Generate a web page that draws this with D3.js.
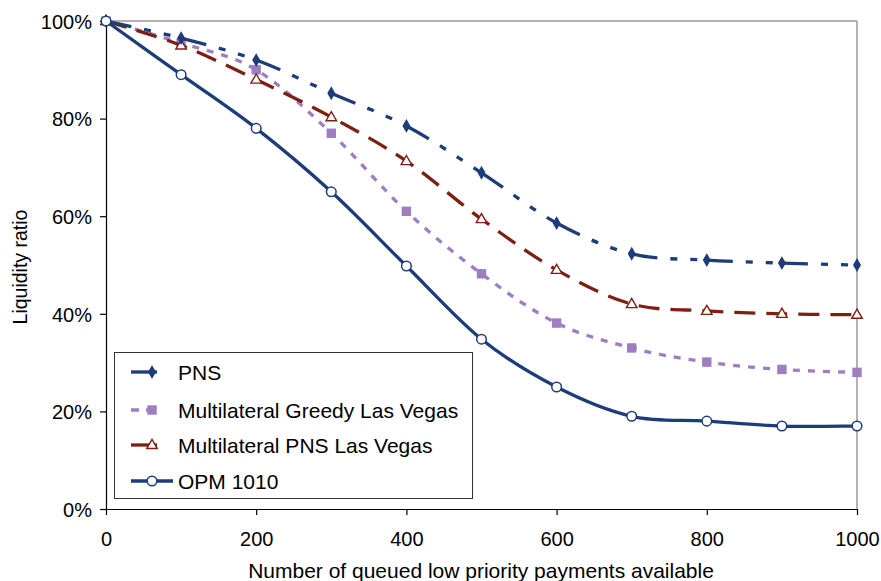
<!DOCTYPE html>
<html><head><meta charset="utf-8">
<script src="https://cdn.jsdelivr.net/npm/d3@7"></script>
<style>body{margin:0;background:#fff}svg{display:block}text{font-family:"Liberation Sans",Arial,sans-serif;fill:#000}</style>
</head><body><svg id="c" width="881" height="581"></svg>
<script>
const xValues = [0,100,200,300,400,500,600,700,800,900,1000];
const pns = [100,96.5,92,85.2,78.5,68.9,58.6,52.3,51,50.4,50];
const greedy = [100,95.5,90,77,61,48.2,38.1,33,30.1,28.6,28];
const multiPns = [100,95,88,80.3,71.3,59.4,49,42,40.6,40,39.8];
const opm = [100,89,78,65,49.8,34.8,25,19,18,17,17];
const seriesNames = ["PNS","Multilateral Greedy Las Vegas","Multilateral PNS Las Vegas","OPM 1010"];
const xTicks = [0,200,400,600,800,1000];
const yTicks = [0,20,40,60,80,100];

const svg = d3.select("#c");
const L=106,R=857,T=21,B=509;
const x = d3.scaleLinear().domain([0,1000]).range([L,R]);
const y = d3.scaleLinear().domain([0,100]).range([B,T]);

svg.append("line").attr("x1",L).attr("x2",R).attr("y1",T).attr("y2",T).attr("stroke","#9a9a9a").attr("stroke-width",1.5);
svg.append("line").attr("x1",R).attr("x2",R).attr("y1",T).attr("y2",B).attr("stroke","#9a9a9a").attr("stroke-width",1.5);

const yAxis = svg.append("g").attr("transform",`translate(${L},0)`)
  .call(d3.axisLeft(y).tickValues(yTicks).tickFormat(d=>d+"%").tickSize(6).tickSizeOuter(0));
const xAxis = svg.append("g").attr("transform",`translate(0,${B})`)
  .call(d3.axisBottom(x).tickValues(xTicks).tickFormat(d3.format("d")).tickSize(6).tickSizeOuter(0));
[yAxis,xAxis].forEach(g=>{
  g.selectAll("path,line").attr("stroke","#000").attr("stroke-width",1.2);
  g.selectAll("text").attr("font-size",20).style("font-family","Liberation Sans, Arial, sans-serif").attr("fill","#000");
});
yAxis.selectAll("text").attr("x",-14).attr("dy","0.36em");
xAxis.selectAll("text").attr("y",23).attr("dy","0.71em");

svg.append("text").attr("x",481).attr("y",578).attr("text-anchor","middle").attr("font-size",21).text("Number of queued low priority payments available");
svg.append("text").attr("transform","translate(27,267) rotate(-90)").attr("text-anchor","middle").attr("font-size",19.5).text("Liquidity ratio");

const navy="#1C3D77", purple="#9F7DC1", red="#7D2014";
const series = [
  {name:seriesNames[0], vals:pns, color:navy, dash:"26,13,7,13,7,13", marker:"diamond", restart:true},
  {name:seriesNames[1], vals:greedy, color:purple, dash:"7,8", marker:"square"},
  {name:seriesNames[2], vals:multiPns, color:red, dash:"21,11", marker:"triangle"},
  {name:seriesNames[3], vals:opm, color:navy, dash:null, marker:"circle"}
];

// uniform Catmull-Rom segments (as cubic Beziers) through the scaled points
function segments(pts){
  const P = pts.map(p=>[x(p[0]),y(p[1])]);
  const segs=[];
  for(let i=0;i<P.length-1;i++){
    const p0=P[Math.max(0,i-1)], p1=P[i], p2=P[i+1], p3=P[Math.min(P.length-1,i+2)];
    const c1=[p1[0]+(p2[0]-p0[0])/6, p1[1]+(p2[1]-p0[1])/6];
    const c2=[p2[0]-(p3[0]-p1[0])/6, p2[1]-(p3[1]-p1[1])/6];
    segs.push({p1,c1,c2,p2});
  }
  return segs;
}
function segPath(s){ const p=d3.path(); p.moveTo(...s.p1); p.bezierCurveTo(...s.c1,...s.c2,...s.p2); return p.toString(); }
function fullPath(segs){ const p=d3.path(); p.moveTo(...segs[0].p1); segs.forEach(s=>p.bezierCurveTo(...s.c1,...s.c2,...s.p2)); return p.toString(); }

function drawMarker(g, m, color, cx, cy){
  if(m==="diamond") g.append("path").attr("d",d3.symbol(d3.symbolDiamond,55)()).attr("transform",`translate(${cx},${cy})`).attr("fill",color);
  else if(m==="square") g.append("rect").attr("x",cx-4.7).attr("y",cy-4.7).attr("width",9.4).attr("height",9.4).attr("fill",color);
  else if(m==="triangle") g.append("path").attr("d",d3.symbol(d3.symbolTriangle,48)()).attr("transform",`translate(${cx},${cy+0.5})`).attr("fill","#fff").attr("stroke",color).attr("stroke-width",1.4);
  else if(m==="circle") g.append("circle").attr("cx",cx).attr("cy",cy).attr("r",4.8).attr("fill","#fff").attr("stroke",color).attr("stroke-width",1.5);
}

const order=[1,2,0,3];
order.forEach(i=>{
  const s=series[i];
  const pts = xValues.map((xv,j)=>[xv,s.vals[j]]);
  const segs = segments(pts);
  const lg = svg.append("g").attr("fill","none").attr("stroke",s.color).attr("stroke-width",3.3)
    .attr("stroke-dasharray",s.dash).attr("stroke-linejoin","round");
  if(s.restart) segs.forEach(sg=>lg.append("path").attr("d",segPath(sg)));
  else lg.append("path").attr("d",fullPath(segs));
  const g=svg.append("g");
  pts.forEach(p=>drawMarker(g,s.marker,s.color,x(p[0]),y(p[1])));
});

// legend
const lg = svg.append("g");
lg.append("rect").attr("x",114.5).attr("y",352.5).attr("width",358).attr("height",146).attr("fill","#fff").attr("stroke","#333").attr("stroke-width",1);
const ly=[372,410,445,481];
series.forEach((s,i)=>{
  const yy=ly[i];
  lg.append("line").attr("x1",131).attr("x2",i===3?173:157).attr("y1",yy).attr("y2",yy).attr("stroke",s.color).attr("stroke-width",3.3)
    .attr("stroke-dasharray", i===1?"8,7":null);
  drawMarker(lg,s.marker,s.color,152,yy);
  lg.append("text").attr("x",178).attr("y",yy).attr("dy","0.36em").attr("font-size",21).text(s.name);
});
</script></body></html>
